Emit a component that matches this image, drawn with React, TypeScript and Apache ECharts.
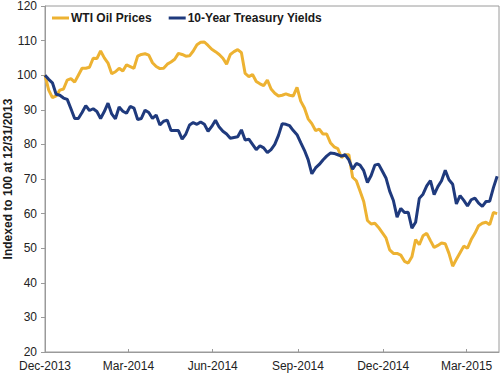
import React, { useEffect, useRef } from "react";
import * as echarts from "echarts";

// Sampled every 4 calendar days starting 12/31/2013 (index 0 = day 0)
const STEP_DAYS = 4;
const oilPrices = [
  100, 95.7, 93.5, 94, 95.7, 96, 98.6, 99, 98, 100,
  102, 102, 102.3, 104.9, 104.8, 107, 105, 103.5, 100.4, 101,
  102, 101.2, 103, 102.5, 102, 105.5, 106, 106.2, 105.8, 103.6,
  102.5, 101.9, 102, 103.2, 103.8, 104.6, 106.3, 106, 105.5, 105.6,
  107, 108.8, 109.5, 109.6, 108.6, 107.5, 106.8, 106, 104.9, 103.2,
  106, 106.8, 107.4, 106.5, 100.5, 99.6, 100.2, 98.2, 97.5, 97,
  98.6, 96, 94.8, 94, 94.2, 94.6, 94.2, 94, 96.5, 92.5,
  90.5, 87.4, 86, 84, 84.4, 83, 83, 80.5, 79.3, 78.8,
  76.2, 77, 77, 70.5, 69.5, 66.5, 63.5, 58, 57, 57.2,
  56, 54.5, 53, 49.5, 48.5, 48.5, 48, 46.2, 45.7, 47.5,
  52.5, 51, 53.6, 54.3, 52.2, 50.2, 50.8, 51.5, 51.3, 48.5,
  44.8, 46.8, 48.7, 50.6, 50, 52.5, 54.3, 56.5, 57.2, 57.5,
  56.8, 60.3, 60,
];
const treasuryYields = [
  100, 98.8, 97.8, 94.5, 94.2, 93.4, 93, 90.3, 87.5, 87.5,
  89.2, 91.2, 89.8, 90.3, 89.5, 87.5, 89.5, 91.9, 88.8, 87.4,
  90.8, 89.6, 89, 91, 90.5, 87.2, 87.5, 89.9, 89.2, 87.5,
  88.5, 85.6, 86.7, 87, 84, 84, 84, 81.5, 83, 85.6,
  86.3, 85.8, 86.5, 85.8, 83.8, 85.2, 87, 85, 83.8, 83,
  81.8, 82, 82.2, 84.2, 81.3, 81.5, 80, 78.5, 79.6, 79,
  77.6, 78.5, 80, 82.6, 86, 85.8, 85.4, 84, 82.8, 80.5,
  78.3, 75.6, 71.5, 73.2, 74.2, 75.5, 76.6, 77.5, 77.4, 77,
  76.6, 77, 75.5, 72.8, 74.5, 74, 72.4, 69, 71, 74,
  74.3, 72.3, 70.3, 66.5, 63.8, 59, 61.5, 60.3, 60.4, 55.8,
  57.5, 64.4, 65.6, 68, 69.5, 65.5, 67.8, 69.5, 72.5, 69.8,
  68.5, 62.8, 65.2, 63.8, 62.2, 64, 64.5, 63, 62.1, 63.5,
  63.6, 67.5, 70.8,
];
const tickDays = [0, 90, 181, 273, 365, 455];
const tickLabels = ["Dec-2013", "Mar-2014", "Jun-2014", "Sep-2014", "Dec-2014", "Mar-2015"];
const seriesNames = ["WTI Oil Prices", "10-Year Treasury Yields"];
const X_MAX_DAYS = 490;

const FONT = "'Liberation Sans', Arial, sans-serif";

export default function App() {
  const ref = useRef<HTMLDivElement>(null);
  useEffect(() => {
    if (!ref.current) return;
    const chart = echarts.init(ref.current, undefined, { renderer: "svg" });
    const toPairs = (arr: number[]) => arr.map((v, i) => [i * STEP_DAYS, v]);
    chart.setOption({
      animation: false,
      backgroundColor: "#ffffff",
      grid: {
        left: 45,
        top: 6,
        right: 1,
        bottom: 21,
        show: true,
        borderColor: "#9a9a9a",
        borderWidth: 1,
        containLabel: false,
        outerBoundsMode: "none",
      },
      legend: {
        left: 52,
        top: 12,
        icon: "rect",
        itemWidth: 17,
        itemHeight: 3,
        itemGap: 17,
        padding: 0,
        textStyle: { fontFamily: FONT, fontSize: 12, fontWeight: "bold", color: "#1a1a1a", padding: [0, 0, 0, -3] },
        data: seriesNames,
      },
      xAxis: {
        type: "value",
        min: 0,
        max: X_MAX_DAYS,
        splitLine: { show: false },
        axisLine: { show: true, lineStyle: { color: "#9a9a9a", width: 1 } },
        axisTick: { show: true, inside: true, length: 3, lineStyle: { color: "#9a9a9a" }, customValues: tickDays },
        axisLabel: {
          customValues: tickDays,
          formatter: (v: number) => {
            const i = tickDays.indexOf(v);
            return i >= 0 ? tickLabels[i] : "";
          },
          fontFamily: FONT,
          fontSize: 12,
          color: "#222",
          margin: 8,
        },
      },
      yAxis: {
        type: "value",
        min: 20,
        max: 120,
        interval: 10,
        name: "Indexed to 100 at 12/31/2013",
        nameLocation: "middle",
        nameGap: 31,
        nameMoveOverlap: false,
        nameTextStyle: { fontFamily: FONT, fontSize: 12, fontWeight: "bold", color: "#1a1a1a" },
        splitLine: { show: false },
        axisLine: { show: true, lineStyle: { color: "#9a9a9a", width: 1 } },
        axisTick: { show: true, length: 4, lineStyle: { color: "#9a9a9a" } },
        axisLabel: { fontFamily: FONT, fontSize: 12, color: "#222", margin: 8 },
      },
      series: [
        {
          name: seriesNames[0],
          type: "line",
          data: toPairs(oilPrices),
          symbol: "none",
          lineStyle: { color: "#EDB232", width: 3 },
          itemStyle: { color: "#EDB232" },
          z: 2,
        },
        {
          name: seriesNames[1],
          type: "line",
          data: toPairs(treasuryYields),
          symbol: "none",
          lineStyle: { color: "#1F3A7D", width: 3 },
          itemStyle: { color: "#1F3A7D" },
          z: 3,
        },
      ],
    });
    return () => chart.dispose();
  }, []);
  return <div ref={ref} style={{ width: 500, height: 373, position: "absolute", left: 0, top: 0 }} />;
}
